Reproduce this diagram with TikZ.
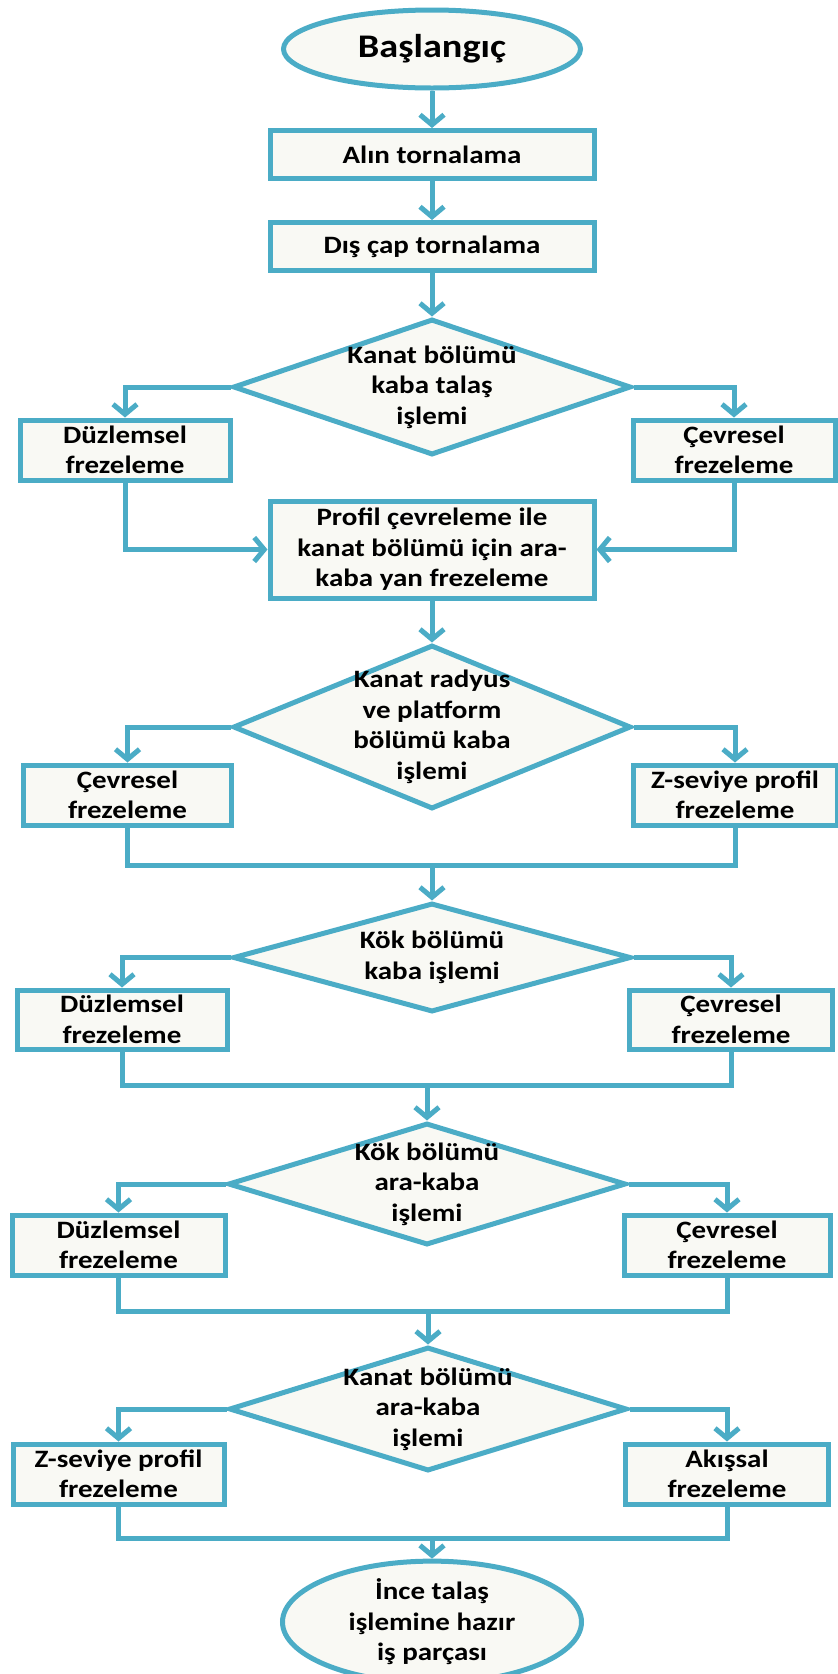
\documentclass[tikz,border=0pt]{standalone}
\usepackage{fontspec}
\setmainfont{Carlito}[FakeStretch=1.16]
\usetikzlibrary{shapes.geometric,arrows.meta}
\definecolor{edge}{HTML}{4BACC6}
\definecolor{paper}{HTML}{F9F9F4}
\begin{document}
\begin{tikzpicture}[x=1pt,y=-1pt,
 lbl/.style={font=\fontsize{25}{30.5}\selectfont\bfseries, align=center, text=black},
 box/.style={lbl, draw=edge, fill=paper, line width=5pt, rectangle, inner sep=0pt},
 term/.style={lbl, draw=edge, fill=paper, line width=5pt, ellipse, inner sep=0pt},
 dia/.style={draw=edge, fill=paper, line width=5pt, diamond, inner sep=0pt},
 conn/.style={draw=edge, line width=5pt},
 arr/.style={conn, -{Straight Barb[length=10pt,width=24pt]}},
]
\useasboundingbox (0,0) rectangle (838,1674);

\node[term, minimum width=297pt, minimum height=78pt, font=\fontsize{33}{36}\selectfont\bfseries] (start) at (432,49) {Başlangıç};
\node[box, minimum width=324pt, minimum height=48pt] (b1) at (432,154.5) {Alın tornalama};
\node[box, minimum width=324pt, minimum height=48pt] (b2) at (432,246.5) {Dış çap tornalama};

\node[dia, minimum width=398pt, minimum height=136pt] (d1) at (432,387) {};
\node[lbl] (t1) at (d1) {Kanat bölümü\\kaba talaş\\işlemi};
\node[box, minimum width=210pt, minimum height=60pt] (l1) at (125,450) {Düzlemsel\\frezeleme};
\node[box, minimum width=202pt, minimum height=60pt] (r1) at (734,450) {Çevresel\\frezeleme};
\node[box, minimum width=324pt, minimum height=97pt] (p) at (432,549.5) {Profil çevreleme ile\\kanat bölümü için ara-\\kaba yan frezeleme};

\node[dia, minimum width=398pt, minimum height=164pt] (d2) at (432,727) {};
\node[lbl] (t2) at (d2) {Kanat radyus\\ve platform\\bölümü kaba\\işlemi};
\node[box, minimum width=208pt, minimum height=60pt] (l2) at (127.5,795) {Çevresel\\frezeleme};
\node[box, minimum width=204pt, minimum height=60pt] (r2) at (735,795) {Z-seviye profil\\frezeleme};
\coordinate (j2) at (432,865);

\node[dia, minimum width=398pt, minimum height=109pt] (d3) at (432,957.5) {};
\node[lbl] (t3) at (d3) {Kök bölümü\\kaba işlemi};
\node[box, minimum width=210pt, minimum height=59pt] (l3) at (122,1019.5) {Düzlemsel\\frezeleme};
\node[box, minimum width=203pt, minimum height=59pt] (r3) at (731,1019.5) {Çevresel\\frezeleme};
\coordinate (j3) at (427,1085);

\node[dia, minimum width=398pt, minimum height=122pt] (d4) at (427,1184) {};
\node[lbl] (t4) at (d4) {Kök bölümü\\ara-kaba\\işlemi};
\node[box, minimum width=213pt, minimum height=60pt] (l4) at (118.5,1245) {Düzlemsel\\frezeleme};
\node[box, minimum width=206pt, minimum height=60pt] (r4) at (727,1245) {Çevresel\\frezeleme};
\coordinate (j4) at (428,1311);

\node[dia, minimum width=398pt, minimum height=124pt] (d5) at (428,1409) {};
\node[lbl] (t5) at (d5) {Kanat bölümü\\ara-kaba\\işlemi};
\node[box, minimum width=211pt, minimum height=60pt] (l5) at (118.5,1474) {Z-seviye profil\\frezeleme};
\node[box, minimum width=203pt, minimum height=60pt] (r5) at (727,1474) {Akışsal\\frezeleme};
\coordinate (j5) at (432,1538);

\node[term, minimum width=299pt, minimum height=106pt] (end) at (432,1622) {İnce talaş\\işlemine hazır\\iş parçası};

\draw[arr] (start) -- (b1);
\draw[arr] (b1) -- (b2);
\draw[arr] (b2) -- (d1);
\draw[arr] (d1.west) -| (l1.north);
\draw[arr] (d1.east) -| (r1.north);
\draw[arr] (l1.south) |- (p.west);
\draw[arr] (r1.south) |- (p.east);
\draw[arr] (p) -- (d2);

\draw[arr] (d2.west) -| (l2.north);
\draw[arr] (d2.east) -| (r2.north);
\draw[conn] (l2.south) |- (j2) -| (r2.south);
\draw[arr] (j2) -- (d3);

\draw[arr] (d3.west) -| (l3.north);
\draw[arr] (d3.east) -| (r3.north);
\draw[conn] (l3.south) |- (j3) -| (r3.south);
\draw[arr] (j3) -- (d4);

\draw[arr] (d4.west) -| (l4.north);
\draw[arr] (d4.east) -| (r4.north);
\draw[conn] (l4.south) |- (j4) -| (r4.south);
\draw[arr] (j4) -- (d5);

\draw[arr] (d5.west) -| (l5.north);
\draw[arr] (d5.east) -| (r5.north);
\draw[conn] (l5.south) |- (j5) -| (r5.south);
\draw[arr] (j5) -- (end);
\end{tikzpicture}
\end{document}
